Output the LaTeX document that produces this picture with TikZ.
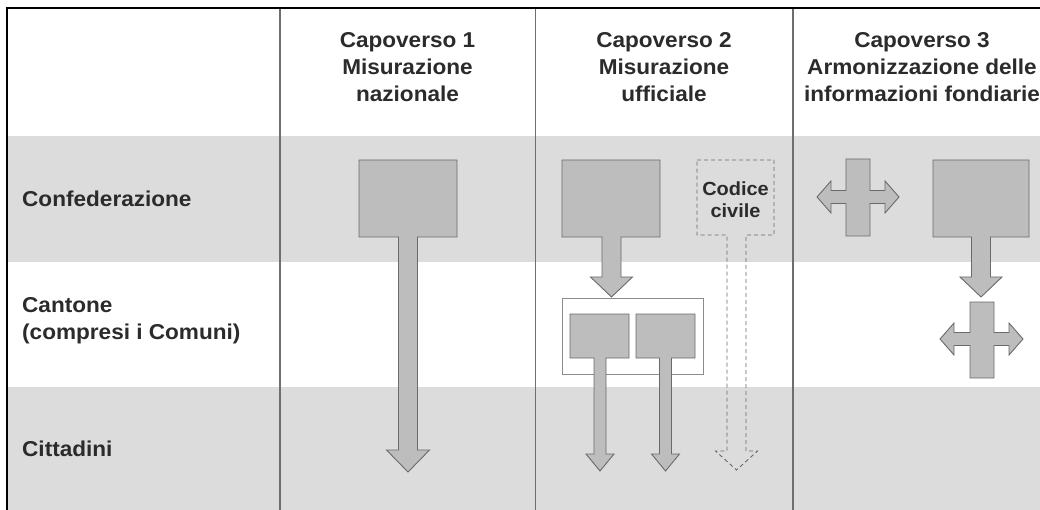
\documentclass[tikz,border=0pt]{standalone}
\usepackage{fontspec}
\setmainfont{Liberation Sans}
\newfontfamily\lblfont[FakeStretch=1.05]{Liberation Sans}
\definecolor{band}{HTML}{DCDCDC}
\definecolor{shapefill}{HTML}{BDBDBD}
\definecolor{shapeline}{HTML}{6A6A6A}
\definecolor{divider}{HTML}{6E6E6E}
\definecolor{txt}{HTML}{2B2B2B}
\definecolor{frameline}{HTML}{8C8C8C}
\tikzset{
  shp/.style={fill=shapefill, draw=shapeline, line width=0.9pt, line join=miter},
  dashshp/.style={draw=shapeline, line width=0.9pt, dash pattern=on 4pt off 3pt},
  headtxt/.style={font=\lblfont\fontsize{21.5}{27}\selectfont\bfseries, text=txt, align=center, inner sep=0pt},
  rowtxt/.style={font=\lblfont\fontsize{21.5}{27}\selectfont\bfseries, text=txt, align=left, anchor=west, inner sep=0pt},
  smalltxt/.style={font=\lblfont\fontsize{19}{22}\selectfont\bfseries, text=txt, align=center, inner sep=0pt},
  divline/.style={draw=divider, line width=1.3pt},
  blackframe/.style={draw=black, line width=2.6pt}
}
\begin{document}
\begin{tikzpicture}[x=1pt, y=-1pt]
\useasboundingbox (0,0) rectangle (1040,510);
\clip (0,0) rectangle (1040,510);
% row bands
\fill[band] (8,136) rectangle (1040,262);
\fill[band] (8,387) rectangle (1040,510);
% dividers
\draw[divline] (280,8) -- (280,510);
\draw[divline] (535.5,8) -- (535.5,510);
\draw[divline] (793,8) -- (793,510);
% frame
\draw[blackframe] (5.5,8) -- (1040,8);
\draw[blackframe] (7,8) -- (7,510);
% headers
\node[headtxt] (h1) at (407.5,67) {Capoverso 1\\Misurazione\\nazionale};
\node[headtxt] (h2) at (664,67) {Capoverso 2\\Misurazione\\ufficiale};
\node[headtxt] (h3) at (922,67) {Capoverso 3\\Armonizzazione delle\\informazioni fondiarie};
% row labels
\node[rowtxt] (r1) at (22,199) {Confederazione};
\node[rowtxt] (r2) at (22,321) {Cantone\\(compresi i Comuni)};
\node[rowtxt] (r3) at (22,449) {Cittadini};
% column 1
\draw[shp] (359,160) -- (457,160) -- (457,237) -- (417.5,237) -- (417.5,450) -- (429.5,450) -- (408,472) -- (386.5,450) -- (398.5,450) -- (398.5,237) -- (359,237) -- cycle;
% column 2 main
\draw[shp] (562,160) -- (660,160) -- (660,237) -- (621,237) -- (621,277) -- (632.5,277) -- (611.5,297) -- (590.5,277) -- (602,277) -- (602,237) -- (562,237) -- cycle;
% cantone group
\draw[draw=frameline, line width=0.8pt, fill=white] (562,298) rectangle (703,374);
\draw[shp] (570,314) -- (629,314) -- (629,358) -- (606,358) -- (606,454) -- (614,454) -- (600,471) -- (586,454) -- (594,454) -- (594,358) -- (570,358) -- cycle;
\draw[shp] (636,314) -- (695,314) -- (695,358) -- (671.5,358) -- (671.5,454) -- (679.5,454) -- (665.5,471) -- (651.5,454) -- (659.5,454) -- (659.5,358) -- (636,358) -- cycle;
% codice civile
\draw[dashshp] (697,160) -- (774,160) -- (774,235) -- (746,235) -- (746,451) -- (757.5,451) -- (736.5,470) -- (715.5,451) -- (727,451) -- (727,235) -- (697,235) -- cycle;
\node[smalltxt] (cc) at (735.5,200) {Codice\\civile};
% column 3 upper cross
\draw[shp] (846,159) -- (870,159) -- (870,190.5) -- (885,190.5) -- (885,181) -- (899,197) -- (885,213) -- (885,203.5) -- (870,203.5) -- (870,236) -- (846,236) -- (846,203.5) -- (831,203.5) -- (831,213) -- (817,197) -- (831,181) -- (831,190.5) -- (846,190.5) -- cycle;
% column 3 main
\draw[shp] (933,160) -- (1029,160) -- (1029,237) -- (990.5,237) -- (990.5,277) -- (1002,277) -- (981,297) -- (960,277) -- (971.5,277) -- (971.5,237) -- (933,237) -- cycle;
% column 3 lower cross
\draw[shp] (970,302) -- (994,302) -- (994,332.5) -- (1009,332.5) -- (1009,323) -- (1023,339) -- (1009,355) -- (1009,345.5) -- (994,345.5) -- (994,378) -- (970,378) -- (970,345.5) -- (954,345.5) -- (954,355) -- (940,339) -- (954,323) -- (954,332.5) -- (970,332.5) -- cycle;
\end{tikzpicture}
\end{document}
